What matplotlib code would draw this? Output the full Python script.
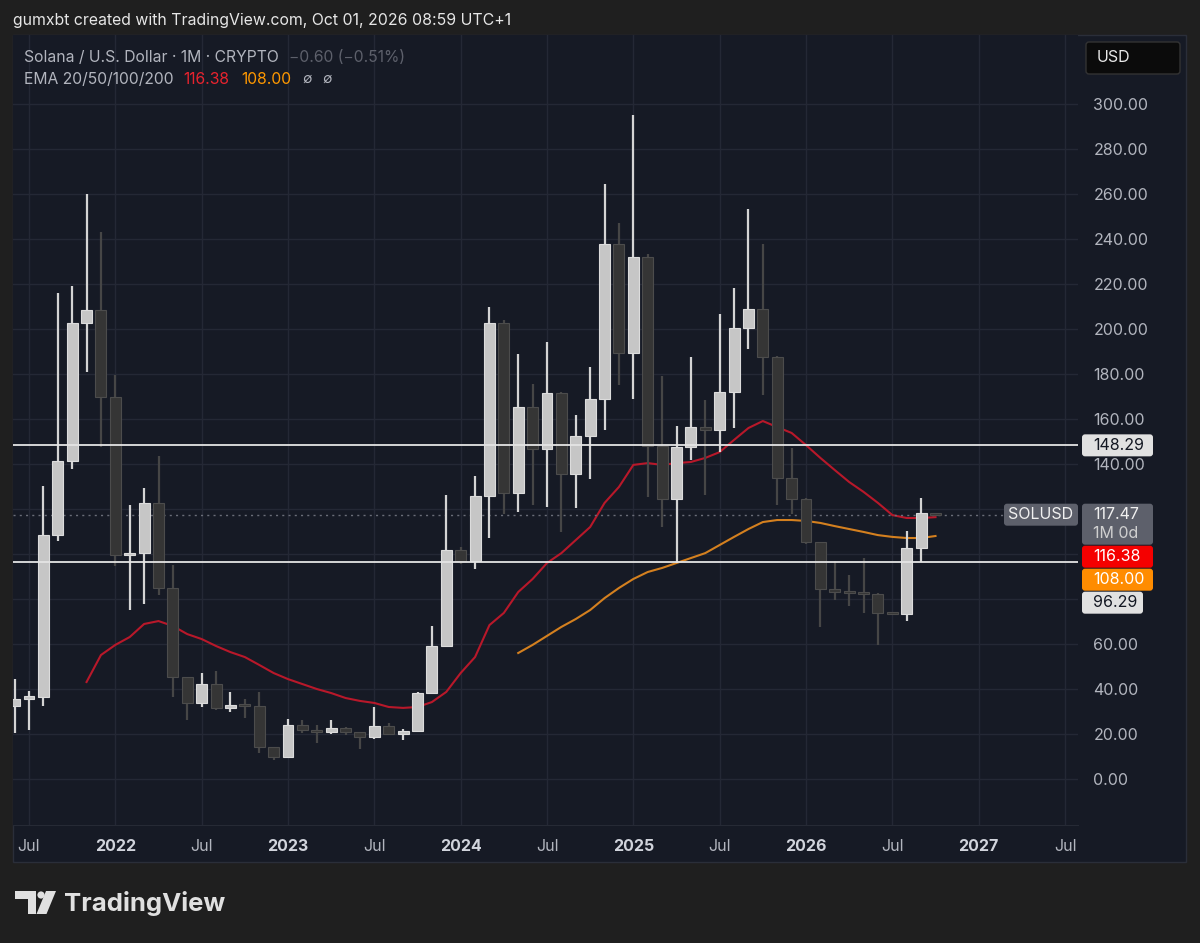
import matplotlib
matplotlib.use("Agg")
import matplotlib.pyplot as plt
import numpy as np
from matplotlib.patches import Rectangle, FancyBboxPatch, Polygon, Circle
from matplotlib.transforms import IdentityTransform
from matplotlib.ticker import FuncFormatter

plt.rcParams['font.family'] = ['Inter', 'DejaVu Sans']

# monthly SOL/USD candles, Jun 2021 .. Oct 2026
opens = [32.4, 35.6, 36.4, 108.4, 141.3, 202.7, 208.4, 169.8, 99.6, 100.5,
         122.7, 84.9, 45.3, 33.8, 42.2, 31.6, 32.9, 32.4, 14.2, 9.8,
         24.0, 21.8, 21.0, 22.7, 20.9, 18.7, 23.6, 20.0, 21.3, 38.2,
         59.1, 101.8, 96.9, 125.8, 202.7, 127.1, 165.3, 146.7, 171.6, 135.6,
         152.4, 168.9, 237.8, 189.3, 232.0, 148.0, 124.4, 147.6, 156.4, 155.3,
         172.0, 200.4, 208.9, 187.6, 133.8, 124.4, 105.3, 84.4, 83.1, 82.7,
         82.2, 73.8, 73.3, 102.7, 118.07]
closes = [35.6, 36.9, 108.4, 141.3, 202.7, 208.4, 169.8, 99.6, 100.5, 122.7,
          84.9, 45.3, 33.8, 42.2, 31.6, 32.9, 32.4, 14.2, 9.8, 24.0,
          21.8, 21.0, 22.7, 20.9, 18.7, 23.6, 20.0, 21.3, 38.2, 59.1,
          101.8, 96.9, 125.8, 202.7, 127.1, 165.3, 146.7, 171.6, 135.6, 152.4,
          168.9, 237.8, 189.3, 232.0, 148.0, 124.4, 147.6, 156.4, 155.3, 172.0,
          200.4, 208.9, 187.6, 133.8, 124.4, 105.3, 84.4, 83.1, 82.7, 82.2,
          73.8, 73.3, 102.7, 118.07, 117.47]
highs = [44.4, 39.0, 130.2, 216.0, 219.0, 260.0, 243.0, 179.5, 121.8, 129.3,
         143.6, 95.0, 45.3, 47.0, 48.0, 38.7, 35.5, 38.7, 14.3, 26.7,
         26.2, 24.0, 26.2, 23.0, 21.0, 32.0, 24.9, 22.2, 38.5, 68.0,
         126.2, 103.0, 134.7, 209.8, 204.0, 188.9, 175.6, 194.2, 172.0, 161.8,
         183.0, 264.4, 247.0, 295.0, 233.3, 179.0, 157.0, 187.6, 168.4, 206.7,
         218.2, 253.3, 238.0, 188.0, 147.0, 125.0, 105.5, 96.9, 90.7, 98.2,
         82.5, 74.0, 110.2, 124.9, 118.3]
lows = [20.4, 21.8, 32.4, 106.0, 138.0, 181.0, 147.6, 94.5, 75.1, 78.0,
        81.8, 36.4, 26.2, 32.0, 30.7, 29.8, 27.0, 11.5, 8.4, 9.8,
        20.4, 16.0, 20.0, 19.6, 13.3, 17.8, 19.8, 17.3, 21.0, 38.0,
        58.7, 95.6, 93.3, 107.0, 118.0, 118.7, 122.0, 121.0, 109.8, 120.4,
        133.3, 155.0, 175.0, 169.0, 125.3, 112.0, 96.0, 141.8, 126.2, 145.3,
        156.0, 191.0, 170.7, 121.8, 118.0, 104.5, 67.6, 79.6, 76.9, 73.8,
        59.6, 73.0, 70.2, 96.4, 117.0]

nan = float('nan')
ema20 = [nan] * 5 + [43.1, 55.1, 59.6, 63.1, 68.9, 70.2, 68.0, 64.4, 62.2, 59.1,
                     56.4, 54.2, 50.7, 47.1, 44.4, 42.2, 40.0, 38.2, 36.0, 34.7,
                     33.8, 32.0, 31.6, 32.0, 34.2, 38.7, 47.1, 54.2, 68.4, 73.8,
                     83.1, 88.9, 96.0, 100.4, 106.2, 112.0, 122.7, 129.8, 139.6, 140.4,
                     139.6, 140.4, 140.9, 142.7, 145.3, 150.7, 156.0, 159.1, 156.4, 153.8,
                     148.4, 142.7, 137.3, 132.0, 127.6, 122.7, 117.3, 116.0, 116.0, 116.38]
ema50 = [nan] * 35 + [56.0, 59.6, 63.6, 67.6, 71.1, 75.1, 80.4, 84.9, 88.9, 92.0,
                      93.8, 96.0, 98.2, 100.4, 104.0, 107.6, 111.1, 114.2, 115.1, 115.1,
                      114.7, 113.8, 112.4, 111.1, 109.8, 108.4, 107.6, 107.1, 107.1, 108.0]

xtick_pos = list(range(1, 74, 6))
xtick_labels = ['Jul', '2022', 'Jul', '2023', 'Jul', '2024', 'Jul',
                '2025', 'Jul', '2026', 'Jul', '2027', 'Jul']
yticks = list(range(0, 301, 20))
hidden_yticks = [80, 100, 120]   # covered by the price tags

level_hi = 148.29
level_lo = 96.29
last_price = 117.47
ema20_last = 116.38
ema50_last = 108.00

W, H = 1200, 943
BG = '#161a25'
GRID = '#242835'
OUTER = '#1f1f1f'
TXT = '#b2b5be'

fig = plt.figure(figsize=(W / 100, H / 100), dpi=100, facecolor=OUTER)
ident = IdentityTransform()

# chart panel
fig.patches.append(Rectangle((13, H - 862), 1186 - 13, 862 - 35, transform=ident,
                             fc=BG, ec='#2a2e39', lw=1, zorder=-1))

ax = fig.add_axes([13 / W, 1 - 825 / H, (1078 - 13) / W, (825 - 35) / H])
ax.set_facecolor(BG)
x0, step = 14.61, 14.389
ax.set_xlim((13 - x0) / step, (1078 - x0) / step)
ax.set_ylim((779 - 825) / 2.25, (779 - 35) / 2.25)
for s in ['top', 'left', 'right']:
    ax.spines[s].set_visible(False)
ax.spines['bottom'].set_color('#262a35')

ax.set_xticks(xtick_pos)
ax.set_xticklabels(xtick_labels)
ax.set_yticks(yticks)
ax.yaxis.set_major_formatter(FuncFormatter(
    lambda v, p: '' if round(v) in hidden_yticks else f'{v:.2f}'))
ax.yaxis.tick_right()
ax.grid(True, color=GRID, lw=1)
ax.set_axisbelow(True)
ax.tick_params(axis='y', length=0, pad=11, labelsize=11.5, labelcolor=TXT)
ax.tick_params(axis='x', length=0, pad=10, labelsize=11.5, labelcolor=TXT)
for lab in ax.get_xticklabels():
    if lab.get_text() != 'Jul':
        lab.set_fontweight('bold')
        lab.set_color('#d1d4dc')

# candles
x = np.arange(len(opens))
o = np.array(opens); c = np.array(closes)
hi = np.array(highs); lo = np.array(lows)
up = c >= o
bottom = np.minimum(o, c)
height = np.maximum(np.abs(c - o), 0.9)

ax.plot(x, ema20, color='#b8182a', lw=1.5, zorder=2.6)
ax.plot(x, ema50, color='#d4801f', lw=1.5, zorder=2.6)

ax.vlines(x[up], lo[up], hi[up], color='#d4d4d4', lw=1.6, zorder=3)
ax.vlines(x[~up], lo[~up], hi[~up], color='#464646', lw=1.6, zorder=3)
ax.bar(x[up], height[up], bottom=bottom[up], width=0.76, color='#c6c6c6',
       edgecolor='#dcdcdc', lw=0.8, zorder=4)
ax.bar(x[~up], height[~up], bottom=bottom[~up], width=0.76, color='#353535',
       edgecolor='#4c4c4c', lw=0.8, zorder=4)

ax.axhline(level_hi, color='#e4e4e4', lw=1.3, zorder=6)
ax.axhline(level_lo, color='#e4e4e4', lw=1.3, zorder=6)
ax.axhline(last_price, color='#6a6d78', lw=1, ls=(0, (1.5, 3)), zorder=2.7)


def top_px(v):
    return H - ax.transData.transform((0, v))[1]


def tag(xa, xb, ytop, h, fc, ec='none'):
    fig.patches.append(FancyBboxPatch((xa, H - ytop - h), xb - xa, h, transform=ident,
                                      boxstyle='round,pad=0,rounding_size=3',
                                      fc=fc, ec=ec, lw=1, zorder=2))


def ftext(xp, yp, s, **kw):
    fig.text(xp, H - yp, s, transform=ident, va='center', zorder=4, **kw)


# price scale tags
yc = top_px(level_hi)
tag(1082, 1153, yc - 11, 22, '#e1e1e1')
ftext(1093, yc, f'{level_hi:.2f}', color='#131722', fontsize=11.5)

yt = top_px(last_price) - 11
tag(1004, 1078, yt, 22, '#5d606b')
ftext(1041, yt + 11, 'SOLUSD', color='#f0f0f0', fontsize=11.5, ha='center')
tag(1082, 1153, yt, 41, '#5d606b')
ftext(1093, yt + 11, f'{last_price:.2f}', color='#f0f0f0', fontsize=11.5)
ftext(1093, yt + 30, '1M 0d', color='#d0d0d0', fontsize=11.5)
yt += 42
tag(1082, 1153, yt, 22, '#f50000')
ftext(1093, yt + 11, f'{ema20_last:.2f}', color='#ffffff', fontsize=11.5)
yt += 23
tag(1082, 1153, yt, 22, '#ff8c00')
ftext(1093, yt + 11, f'{ema50_last:.2f}', color='#ffffff', fontsize=11.5)
yt += 23
tag(1082, 1143, yt, 22, '#e1e1e1')
ftext(1093, yt + 11, f'{level_lo:.2f}', color='#131722', fontsize=11.5)

# currency button
tag(1086, 1180, 42, 32, '#0b0b0b', ec='#333333')
ftext(1097, 58, 'USD', color='#e8e8e8', fontsize=11.5)

# header and legend
ftext(13, 21, 'gumxbt created with TradingView.com, Oct 01, 2026 08:59 UTC+1',
      color='#e6e6e6', fontsize=11.4)
ftext(24, 57, 'Solana / U.S. Dollar · 1M · CRYPTO', color=TXT, fontsize=11.3)
ftext(289, 57, '−0.60 (−0.51%)', color='#5d606b', fontsize=11.3)
ftext(24, 79, 'EMA 20/50/100/200', color=TXT, fontsize=11.3)
ftext(183, 79, f'{ema20_last:.2f}', color='#e8232e', fontsize=11.3)
ftext(241, 79, f'{ema50_last:.2f}', color='#ff9800', fontsize=11.3)
ftext(302, 79, '∅', color=TXT, fontsize=10)
ftext(322, 79, '∅', color=TXT, fontsize=10)

# TradingView logo
LOGO = '#e0e0e0'
fig.patches.append(Polygon([(15, H - 891), (36, H - 891), (36, H - 914), (27.5, H - 914),
                            (27.5, H - 899), (15, H - 899)], closed=True,
                           transform=ident, fc=LOGO, ec='none', zorder=2))
fig.patches.append(Circle((41, H - 895), 3.6, transform=ident, fc=LOGO, ec='none', zorder=2))
fig.patches.append(Polygon([(46, H - 891), (56, H - 891), (46.5, H - 914), (36.5, H - 914)],
                           closed=True, transform=ident, fc=LOGO, ec='none', zorder=2))
ftext(64, 903, 'TradingView', color=LOGO, fontsize=18.5, fontweight='bold')

fig.savefig('out.png', dpi=100, facecolor=OUTER)
